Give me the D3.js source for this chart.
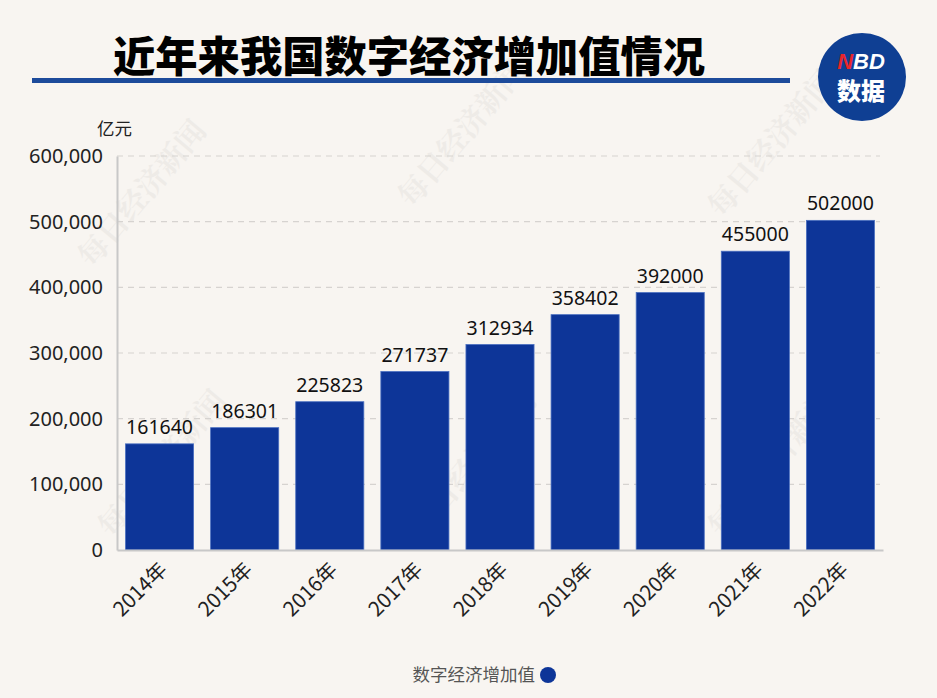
<!DOCTYPE html>
<html><head><meta charset="utf-8">
<script src="https://cdn.jsdelivr.net/npm/d3@7"></script>
<style>
html,body{margin:0;padding:0;background:#f8f5f1;}
svg{display:block;font-family:"Noto Sans CJK SC","Noto Sans",sans-serif;}
</style></head>
<body>
<svg id="chart" width="937" height="698"></svg>
<script>
const categories = ["2014年","2015年","2016年","2017年","2018年","2019年","2020年","2021年","2022年"];
const values = [161640,186301,225823,271737,312934,358402,392000,455000,502000];
const yTicks = [0,100000,200000,300000,400000,500000,600000];
const title = "近年来我国数字经济增加值情况";
const unitLabel = "亿元";
const seriesName = "数字经济增加值";

const svg = d3.select("#chart");
const W = 937, H = 698;
svg.append("rect").attr("width",W).attr("height",H).attr("fill","#f8f5f1");

const m = {left:117, right:54, top:156, bottom:148};
const x = d3.scaleBand().domain(categories).range([m.left, 883]).paddingInner(0.2).paddingOuter(0.1);
const y = d3.scaleLinear().domain([0,600000]).range([550,156]);

// watermarks
const wm = [[150,200],[470,140],[780,150],[170,470],[480,470],[780,470]];
wm.forEach(p=>{
  svg.append("text").attr("transform",`translate(${p[0]},${p[1]}) rotate(-50)`)
    .attr("text-anchor","middle").attr("font-size",30).attr("font-weight",700)
    .attr("font-family","Noto Serif CJK SC,Noto Sans CJK SC")
    .attr("fill","#000").attr("opacity",0.035).text("每日经济新闻");
});

// title
svg.append("text").attr("x",113).attr("y",72).attr("font-size",42.3).attr("font-weight",900)
  .attr("fill","#000").text(title);
svg.append("rect").attr("x",32).attr("y",78).attr("width",758).attr("height",5).attr("fill","#1d4b9b");

// logo
const lg = svg.append("g").attr("transform","translate(862,77)");
lg.append("circle").attr("r",44).attr("fill","#0f3f93");
const nbd = lg.append("text").attr("x",-1).attr("y",-8).attr("text-anchor","middle").attr("font-size",22)
  .attr("font-weight",700).attr("font-style","italic").attr("font-family","Liberation Sans,Arial,sans-serif");
nbd.append("tspan").attr("fill","#e8262c").text("N");
nbd.append("tspan").attr("fill","#fff").text("BD");
lg.append("text").attr("x",-1).attr("y",23).attr("text-anchor","middle").attr("font-size",24).attr("font-weight",900)
  .attr("fill","#fff").text("数据");

// grid
svg.append("g").selectAll("line").data(yTicks.filter(d=>d>0)).join("line")
  .attr("x1",m.left).attr("x2",880).attr("y1",d=>y(d)).attr("y2",d=>y(d))
  .attr("stroke","#d6d3d0").attr("stroke-width",1.2).attr("stroke-dasharray","6,5");

// y axis
const yAxis = svg.append("g").attr("transform",`translate(${m.left},0)`)
  .call(d3.axisLeft(y).tickValues(yTicks).tickSize(0).tickPadding(14).tickFormat(d3.format(",")));
yAxis.select(".domain").attr("stroke","#c8c8c8").attr("stroke-width",2);
yAxis.selectAll("text").attr("font-size",20).attr("fill","#222").attr("font-family","Noto Sans,sans-serif");

svg.append("text").attr("x",97).attr("y",135).attr("font-size",17.5).attr("fill","#222").text(unitLabel);

// bars
svg.append("g").selectAll("rect").data(values).join("rect")
  .attr("x",(d,i)=>x(categories[i])).attr("width",x.bandwidth())
  .attr("y",d=>y(d)).attr("height",d=>y(0)-y(d))
  .attr("fill","#0d3598").attr("stroke","#4a6fc0").attr("stroke-width",0.8);

// value labels
svg.append("g").selectAll("text").data(values).join("text")
  .attr("x",(d,i)=>x(categories[i])+x.bandwidth()/2).attr("y",d=>y(d)-10)
  .attr("text-anchor","middle").attr("font-size",19.5).attr("fill","#111")
  .attr("font-family","Noto Sans,sans-serif").text(d=>d);

// x axis
const xAxis = svg.append("g").attr("transform",`translate(0,550)`)
  .call(d3.axisBottom(x).tickSize(0).tickPadding(0));
xAxis.select(".domain").attr("stroke","#c8c8c8").attr("stroke-width",2);
xAxis.selectAll("text").attr("font-size",20.5).attr("fill","#222")
  .attr("font-family","Noto Sans CJK SC,Noto Sans,sans-serif")
  .attr("text-anchor","end").attr("dy",null)
  .attr("transform","translate(9,21) rotate(-45)");

// legend
svg.append("text").attr("x",535).attr("y",681).attr("text-anchor","end").attr("font-size",17.5)
  .attr("fill","#555").text(seriesName);
svg.append("circle").attr("cx",548).attr("cy",675).attr("r",8).attr("fill","#0d3598");
</script>
</body></html>
